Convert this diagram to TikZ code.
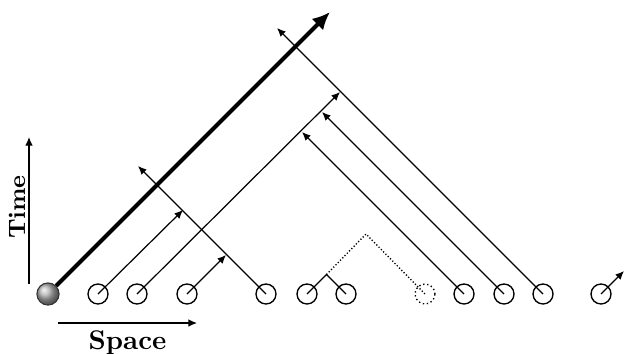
\documentclass[tikz,border=0pt]{standalone}
\usetikzlibrary{arrows.meta}
\begin{document}
\begin{tikzpicture}[x=0.37pt,y=-0.37pt,
  site/.style={circle,draw,line width=0.5pt,inner sep=0pt,minimum size=7.4pt},
  voidsite/.style={circle,draw,densely dotted,line width=0.5pt,inner sep=0pt,minimum size=7.4pt},
  ballsite/.style={circle,draw=black!80,line width=0.4pt,shading=ball,ball color=gray!60,inner sep=0pt,minimum size=8.2pt},
  ray/.style={line width=0.45pt,-{Latex[length=3.2pt,width=2.8pt]}},
  seg/.style={line width=0.45pt},
  dotseg/.style={line width=0.5pt,dash pattern=on 0.45pt off 0.75pt},
  thickray/.style={line width=1.5pt,-{Latex[length=6.5pt,width=6pt]}},
  axis/.style={line width=0.45pt,-{Latex[length=3.2pt,width=2.8pt]}},
  lab/.style={font=\bfseries}]
\useasboundingbox (0,0) rectangle (624,353);
% sites
\node[ballsite] (b0) at (48,294) {};
\node[site] (s1) at (98,294) {};
\node[site] (s2) at (137,294) {};
\node[site] (s3) at (187,294) {};
\node[site] (s4) at (266,294) {};
\node[site] (s5) at (307,294) {};
\node[site] (s6) at (346,294) {};
\node[voidsite] (v7) at (425,294) {};
\node[site] (s8) at (464,294) {};
\node[site] (s9) at (504,294) {};
\node[site] (s10) at (543,294) {};
\node[site] (s11) at (601,294) {};
% end points
\coordinate (e0) at (330,12);
\coordinate (e1) at (183,210);
\coordinate (e2) at (340,92);
\coordinate (e3) at (226,255);
\coordinate (e4) at (138,166);
\coordinate (pk) at (326.5,274.5);
\coordinate (dp) at (366,234);
\coordinate (e8) at (302,132);
\coordinate (e9) at (322,112);
\coordinate (e10) at (277,28);
\coordinate (e11) at (624,271);
% rays
\draw[thickray] (b0) -- (e0);
\draw[ray] (s1.center) -- (e1);
\draw[ray] (s2.center) -- (e2);
\draw[ray] (s3.center) -- (e3);
\draw[ray] (s4.center) -- (e4);
\draw[seg] (s5.center) -- (pk) -- (s6.center);
\draw[dotseg] (pk) -- (dp) -- (v7.center);
\draw[ray] (s8.center) -- (e8);
\draw[ray] (s9.center) -- (e9);
\draw[ray] (s10.center) -- (e10);
\draw[ray] (s11.center) -- (e11);
% axes
\coordinate (t0) at (29,284);
\coordinate (t1) at (29,137);
\coordinate (x0) at (58,323);
\coordinate (x1) at (197,323);
\draw[axis] (t0) -- (t1);
\draw[axis] (x0) -- (x1);
\node[lab,rotate=90,font=\bfseries\fontsize{8.8}{10}\selectfont] (tl) at (17,207) {Time};
\node[lab,anchor=base] (sl) at (127.5,349) {Space};
\end{tikzpicture}
\end{document}
